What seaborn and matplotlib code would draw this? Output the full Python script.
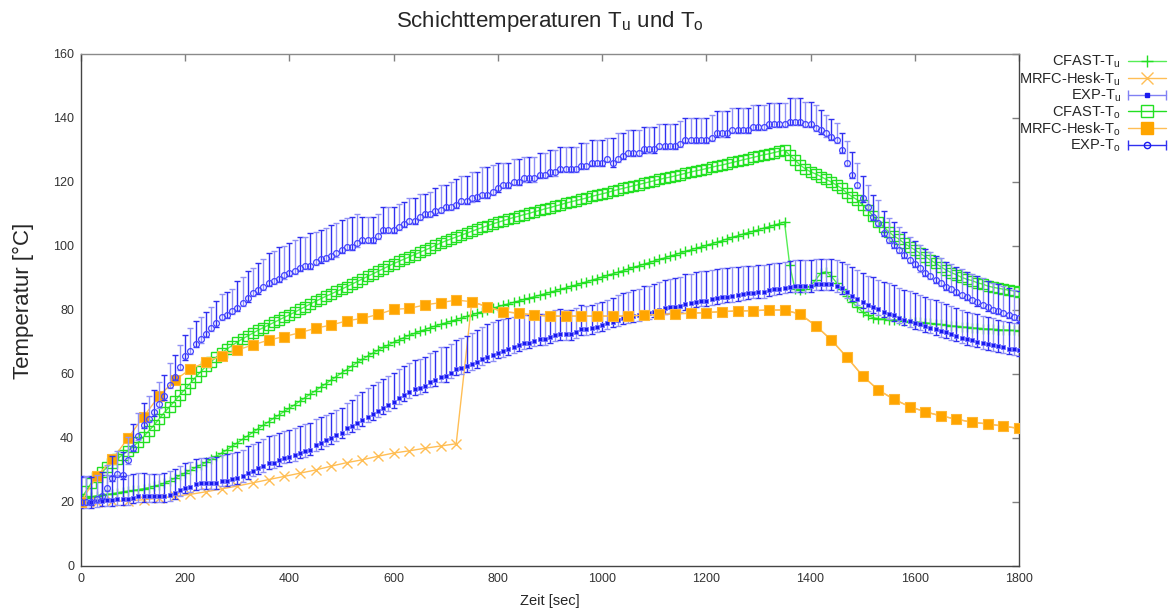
import numpy as np
import matplotlib
matplotlib.use("Agg")
import matplotlib.pyplot as plt
import seaborn as sns
from matplotlib.lines import Line2D
from matplotlib.legend_handler import HandlerLine2D

# ---------------- data ----------------
T10 = np.arange(0, 1801, 10)   # sample times, 10 s grid
T30 = np.arange(0, 1801, 30)   # MRFC-Hesk output times, 30 s grid

CFAST_TU = [
    20.5, 21.2, 21.6, 22, 22.2, 22.4, 22.6, 22.9, 23.2, 23.4,
    23.6, 23.9, 24.2, 24.5, 24.9, 25.3, 25.9, 26.6, 27.4, 28.3,
    29.1, 29.9, 30.8, 31.6, 32.4, 33.3, 34.3, 35.3, 36.3, 37.4,
    38.5, 39.6, 40.7, 41.8, 42.9, 44, 45.1, 46.2, 47.2, 48.3,
    49.3, 50.4, 51.5, 52.6, 53.7, 54.8, 55.9, 57, 58.1, 59.2,
    60.3, 61.4, 62.5, 63.6, 64.6, 65.6, 66.5, 67.4, 68.3, 69.1,
    69.9, 70.7, 71.4, 72.1, 72.7, 73.3, 73.9, 74.5, 75, 75.5,
    76, 76.5, 77, 77.5, 78, 78.5, 79, 79.5, 80, 80.5,
    81, 81.5, 81.9, 82.4, 82.8, 83.3, 83.7, 84.2, 84.6, 85.1,
    85.5, 86, 86.5, 86.9, 87.4, 87.8, 88.3, 88.8, 89.3, 89.8,
    90.3, 90.8, 91.3, 91.8, 92.3, 92.8, 93.3, 93.8, 94.3, 94.8,
    95.3, 95.8, 96.3, 96.8, 97.3, 97.8, 98.3, 98.8, 99.3, 99.7,
    100.2, 100.7, 101.2, 101.7, 102.2, 102.7, 103.2, 103.7, 104.2, 104.6,
    105.1, 105.6, 106, 106.5, 107, 107.5, 94, 86.5, 86.3, 86.5,
    87.5, 89.5, 91.5, 92, 90.5, 88.5, 86.5, 84.5, 82.5, 80.8,
    79.3, 78.3, 77.6, 77.3, 77.2, 77, 76.9, 76.8, 76.6, 76.4,
    76.3, 76.1, 76, 75.8, 75.6, 75.5, 75.3, 75.1, 74.9, 74.8,
    74.6, 74.5, 74.3, 74.2, 74.1, 74, 73.9, 73.8, 73.7, 73.6,
    73.5]

CFAST_TO = [
    21, 23.5, 26, 27.8, 29.3, 30.8, 32.2, 33.5, 34.8, 36,
    37.3, 38.8, 40.4, 42.2, 44, 46, 48, 49.8, 51.6, 53.5,
    55.3, 57.2, 59, 60.8, 62.4, 63.9, 65.3, 66.6, 67.8, 68.9,
    70, 71, 71.9, 72.8, 73.7, 74.5, 75.3, 76.1, 76.9, 77.7,
    78.5, 79.3, 80.2, 81, 81.9, 82.7, 83.5, 84.3, 85, 85.8,
    86.5, 87.3, 88.1, 88.9, 89.7, 90.5, 91.3, 92.1, 92.9, 93.7,
    94.5, 95.2, 95.9, 96.6, 97.3, 98, 98.7, 99.4, 100.2, 100.9,
    101.6, 102.2, 102.8, 103.4, 104, 104.6, 105.2, 105.8, 106.3, 106.9,
    107.4, 107.9, 108.4, 108.9, 109.3, 109.8, 110.2, 110.7, 111.1, 111.6,
    112, 112.5, 112.9, 113.4, 113.8, 114.2, 114.6, 115, 115.5, 115.9,
    116.3, 116.7, 117.2, 117.6, 118, 118.4, 118.8, 119.2, 119.6, 120,
    120.4, 120.8, 121.2, 121.5, 121.9, 122.3, 122.7, 123.1, 123.5, 123.8,
    124.2, 124.6, 125, 125.3, 125.7, 126.1, 126.5, 126.9, 127.3, 127.7,
    128.1, 128.5, 128.8, 129.2, 129.6, 130, 128.4, 126.9, 125.3, 124.1,
    123.2, 122.5, 121.7, 120.8, 120, 119, 118, 116.5, 115.4, 114.4,
    112.8, 111.2, 109.4, 107.6, 106, 104.5, 103.1, 102.1, 100.8, 99.8,
    98.8, 97.7, 96.7, 95.6, 94.6, 93.5, 92.5, 91.7, 91, 90.2,
    89.6, 89.2, 88.5, 88.1, 87.5, 87.1, 86.8, 86.5, 86.2, 86,
    85.7]

EXP_TU = [
    19.8, 19.8, 20, 20.2, 20.4, 20.5, 20.6, 20.8, 20.8, 21,
    21.4, 21.9, 21.9, 21.9, 21.9, 21.9, 21.9, 22.2, 22.7, 23.7,
    24.5, 24.8, 25.6, 25.8, 25.9, 26, 26, 26.7, 26.7, 27.1,
    27.4, 28.1, 29, 29.8, 30.5, 31.2, 32.1, 32.3, 33.1, 33.9,
    34.2, 34.7, 35.4, 35.9, 36.4, 37.8, 38.5, 39.4, 39.9, 40.9,
    41.7, 43, 43.8, 44.6, 45.6, 46.7, 47.5, 48.4, 49.3, 50.3,
    51.1, 52.4, 53.4, 54.3, 55.3, 55.5, 56.3, 57.6, 58.1, 59.2,
    59.4, 60.4, 61.5, 61.8, 62.5, 63.1, 63.8, 64.6, 65.4, 65.9,
    66.7, 67.2, 67.7, 68.5, 69, 69.6, 69.8, 70.4, 70.8, 70.8,
    71.5, 72.2, 72.5, 72.5, 72.5, 73.2, 74, 74, 74.3, 74.8,
    75.3, 75.8, 76.4, 76.9, 77.4, 77.7, 78.1, 78.4, 79, 79,
    79.5, 80, 80.5, 80.8, 81, 81.2, 81.8, 82.1, 82.6, 82.9,
    82.9, 83.3, 83.6, 84, 84.2, 84.4, 84.7, 85, 85.2, 85.4,
    85.7, 85.7, 86.2, 86.5, 86.7, 87, 87.3, 87.5, 87.5, 87.5,
    87.5, 88, 88, 88, 88, 87.5, 86.8, 85.7, 84.5, 83.5,
    82.5, 81.5, 80.9, 80.2, 79.5, 78.9, 78.3, 77.6, 77, 76.5,
    76, 75.5, 75, 74.5, 74, 73.5, 73, 72.5, 72, 71.4,
    70.9, 70.5, 70.1, 69.7, 69.4, 69, 68.6, 68.3, 67.9, 67.7,
    67.5]

EXP_TU_ERR_UP = [
    8, 8, 8, 8, 8, 7.8, 7.6, 7.5, 7.4, 7.3,
    7.2, 7.1, 7.1, 7, 7, 7, 7.2, 7.4, 7.5, 7.6,
    7.6, 7.8, 7.8, 7.9, 8, 8, 8.1, 8.1, 8.2, 8.2,
    8.3, 8.3, 8.4, 8.4, 8.4, 8.5, 8.5, 8.5, 8.4, 8.4,
    8.4, 8.4, 8.4, 8.4, 8.3, 8.2, 8, 7.9, 7.8, 7.8,
    7.8, 7.8, 8.2, 8.8, 8.8, 9, 9.1, 9.2, 9.2, 9.2,
    9.2, 9.1, 9.1, 9.1, 9.1, 9.1, 9.1, 9.1, 9.1, 9.1,
    9.1, 9.1, 9.1, 9.3, 9.5, 9.7, 9.8, 10, 10.1, 10.2,
    10.2, 10, 9.7, 9.4, 9.1, 8.8, 8.5, 8.2, 8, 7.8,
    7.8, 7.8, 7.7, 7.6, 7.6, 7.5, 7.5, 7.4, 7.4, 7.3,
    7.3, 7.4, 7.5, 7.7, 7.8, 8, 8.2, 8.3, 8.5, 8.6,
    8.7, 8.8, 8.9, 9, 9.1, 9.2, 9.3, 9.3, 9.4, 9.4,
    9.4, 9.3, 9.2, 9.1, 9, 8.9, 8.8, 8.7, 8.6, 8.5,
    8.4, 8.3, 8.2, 8.1, 8, 8, 8, 8, 8, 8,
    8, 7.8, 7.8, 7.8, 7.8, 8, 8.3, 8.6, 8.8, 9,
    9.1, 9.2, 9.3, 9.3, 9.4, 9.4, 9.4, 9.4, 9.3, 9.3,
    9.2, 9.2, 9.1, 9, 9, 8.9, 8.8, 8.8, 8.7, 8.6,
    8.6, 8.5, 8.5, 8.4, 8.4, 8.4, 8.3, 8.3, 8.3, 8.3,
    8.3]
EXP_TU_ERR_LO = 1.8

EXP_TO = [
    20, 20, 20, 21, 22, 24.5, 27.5, 28.8, 28.3, 33,
    37, 40.5, 44, 46, 48, 50.5, 53, 56.5, 59, 62.3,
    65.5, 67.3, 69.5, 70.8, 72.6, 74.4, 75.8, 77.9, 78.4, 79.8,
    80.6, 82.2, 83.6, 85.3, 86.1, 87.3, 88.5, 89, 89.8, 90.8,
    91.7, 92.3, 93.1, 93.7, 93.9, 95.1, 95.8, 96.4, 96.9, 97.7,
    98.8, 99.6, 99.8, 100.8, 101.9, 101.9, 101.9, 103.2, 105, 105,
    105, 106, 106.9, 107.9, 107.9, 109, 110, 110, 110.8, 111.3,
    112.1, 112.3, 112.8, 114, 114, 114.9, 115.2, 115.9, 115.9, 117,
    118, 119, 119, 120.1, 120, 121.1, 121.1, 121.1, 122.2, 122.2,
    123, 123, 124.1, 124.1, 124.1, 124.1, 125.1, 125.1, 126, 126,
    126, 127.2, 125.8, 127.2, 128.1, 129.2, 129.2, 129.2, 130.2, 130.2,
    130.2, 131.2, 131.2, 131.2, 131.2, 131.9, 133.1, 133.1, 133.1, 133.1,
    133.1, 133.9, 135.2, 135.2, 135.2, 136.2, 136.2, 136.2, 136.2, 137.1,
    137.1, 137.1, 138, 138.1, 138.1, 138.1, 138.8, 138.8, 138.8, 138.1,
    138.1, 136.8, 136.1, 135.2, 134.2, 133.1, 130, 126, 122.2, 119,
    114.9, 112.1, 109, 107.3, 104, 101.9, 100.4, 98.8, 97.2, 95.6,
    94.4, 93, 91.7, 90.6, 89.4, 88.5, 87.3, 86.5, 85.7, 84.7,
    84, 83.1, 82.4, 81.6, 80.8, 80, 79.7, 79, 78.4, 77.9,
    77.4]

EXP_TO_ERR_UP = [
    8, 8, 7.8, 7.5, 7.5, 7.2, 7, 7, 7.3, 7.2,
    7.3, 7.2, 7, 7.2, 7, 7, 6.8, 6.8, 7, 6.8,
    6.8, 7, 7.2, 7.1, 6.9, 6.6, 7, 7, 7.2, 6.8,
    8.6, 8.2, 8.6, 7.7, 8.5, 8.5, 9.2, 9.3, 9.8, 9.2,
    9.1, 9.6, 9.6, 9.2, 10.1, 9.4, 9.2, 9.2, 9.7, 9.6,
    9.3, 9, 9.2, 9.1, 7.1, 7.1, 7.1, 6.7, 7.1, 7.1,
    7.1, 7, 6.9, 7, 7, 7.1, 6.1, 6.9, 7.2, 7.7,
    6.9, 7.8, 8.1, 8, 8, 8.1, 7.8, 8.7, 8.7, 8.3,
    7.8, 6.8, 6.8, 7, 7.1, 6.8, 6.8, 6.8, 6.8, 6.8,
    7, 7, 6.9, 6.9, 6.9, 6.9, 7, 7, 7.1, 7.1,
    7.1, 6.7, 8.1, 8, 7.1, 7, 7, 7, 6.9, 6.9,
    6.9, 6.8, 6.8, 6.8, 6.8, 7.1, 7, 7, 7, 7,
    7, 7, 7, 7, 7, 6.8, 6.8, 6.8, 6.8, 7,
    7, 7, 6.8, 6.5, 6.5, 6.5, 7.3, 7.3, 7.3, 6.8,
    6.8, 7.3, 6.5, 5.7, 5.4, 5.2, 5.2, 6.9, 7.3, 6.8,
    7, 7, 7, 7, 7, 7, 7, 7, 7.2, 7.2,
    7.3, 7.3, 7.4, 7.5, 7.5, 7.6, 7.7, 7.8, 7.8, 8,
    8, 8.1, 8.2, 8.3, 8.3, 8.4, 8.4, 8.5, 8.5, 8.5,
    8.5]
EXP_TO_ERR_LO = 1.0

MRFC_TU = [
    19.8, 20, 20.2, 20.4, 20.7, 21.2, 21.8, 22.4, 23.2, 24.1,
    25, 26, 27, 28, 29, 30, 31.2, 32.3, 33.2, 34.3,
    35.3, 36, 36.8, 37.5, 38.2, 82.6, 81, 79.5, 79, 78.4,
    78.1, 78.1, 78.1, 78.1, 78.1, 78.1, 78.4, 78.6, 78.8, 79,
    79.2, 79.5, 79.7, 79.8, 80, 80, 78.7, 75.1, 70.6, 65.2,
    59.4, 55, 52.1, 49.8, 48.2, 46.9, 45.9, 44.9, 44.4, 43.7,
    43]

MRFC_TO = [
    20, 28, 33.3, 39.9, 46.7, 53.1, 58.1, 61.5, 63.8, 65.7,
    67.5, 69.1, 70.6, 71.7, 72.9, 74.3, 75.3, 76.6, 77.4, 78.6,
    80.2, 80.5, 81.6, 82.3, 83.1, 82.6, 81, 79.5, 79, 78.4,
    78.1, 78.1, 78.1, 78.1, 78.1, 78.1, 78.4, 78.6, 78.8, 79,
    79.2, 79.5, 79.7, 79.8, 80, 80, 78.7, 75.1, 70.6, 65.2,
    59.4, 55, 52.1, 49.8, 48.2, 46.9, 45.9, 44.9, 44.4, 43.7,
    43]

LABELS = ["CFAST-T$_\\mathregular{u}$", "MRFC-Hesk-T$_\\mathregular{u}$",
          "EXP-T$_\\mathregular{u}$", "CFAST-T$_\\mathregular{o}$",
          "MRFC-Hesk-T$_\\mathregular{o}$", "EXP-T$_\\mathregular{o}$"]
TITLE = "Schichttemperaturen T$_\\mathregular{u}$ und T$_\\mathregular{o}$"
XLABEL = "Zeit [sec]"
YLABEL = "Temperatur [°C]"
XTICKS = list(range(0, 1801, 200))
YTICKS = list(range(0, 161, 20))

# ---------------- style ----------------
sns.set_style("white")
plt.rcParams["font.family"] = ["Liberation Sans", "DejaVu Sans"]
plt.rcParams["mathtext.fontset"] = "custom"
plt.rcParams["mathtext.rm"] = "Liberation Sans"
plt.rcParams["mathtext.it"] = "Liberation Sans"

GREEN = "#22e022"
GREEN_L = "#55ee55"
ORANGE = "#ffa500"
ORANGE_L = "#ffbe55"
BLUE = "#1a1af0"
BLUE_D = "#3030f0"
BLUE_L = "#9090f6"

fig = plt.figure(figsize=(11.71, 6.12), dpi=100)
ax = fig.add_axes([81 / 1171, 1 - 566 / 612, 938 / 1171, 512 / 612])

# CFAST-Tu
sns.lineplot(x=T10, y=CFAST_TU, ax=ax, color=GREEN_L, linewidth=1.0, marker="+",
             markersize=7, markeredgewidth=1.0, markeredgecolor=GREEN,
             legend=False, zorder=2)
# MRFC-Tu
sns.lineplot(x=T30, y=MRFC_TU, ax=ax, color=ORANGE_L, linewidth=1.0, marker="x",
             markersize=6.5, markeredgewidth=1.0, markeredgecolor=ORANGE_L,
             legend=False, zorder=3)
# EXP-Tu with error bars
tu = np.asarray(EXP_TU)
tu_up = np.asarray(EXP_TU_ERR_UP)
tu_lo = np.full_like(tu, EXP_TU_ERR_LO)
for sl, col in ((slice(0, None, 2), BLUE_D), (slice(1, None, 2), BLUE_L)):
    ax.errorbar(T10[sl], tu[sl], yerr=[tu_lo[sl], tu_up[sl]], fmt="none",
                ecolor=col, elinewidth=1.0, capsize=2.5, capthick=1.0, zorder=4)
sns.lineplot(x=T10, y=EXP_TU, ax=ax, color=BLUE, linestyle="none", marker="s",
             markersize=3, markeredgewidth=0.6, markeredgecolor="#7070ff",
             legend=False, zorder=4.5)
# CFAST-To
sns.lineplot(x=T10, y=CFAST_TO, ax=ax, color=GREEN_L, linewidth=1.0, marker="s",
             markersize=6.5, markerfacecolor="none", markeredgecolor=GREEN,
             markeredgewidth=1.0, legend=False, zorder=5)
# MRFC-To
sns.lineplot(x=T30, y=MRFC_TO, ax=ax, color=ORANGE_L, linewidth=1.0, marker="s",
             markersize=7.5, markerfacecolor=ORANGE, markeredgecolor="#ffb733",
             markeredgewidth=0.8, legend=False, zorder=6)
# EXP-To with error bars
to = np.asarray(EXP_TO)
to_up = np.asarray(EXP_TO_ERR_UP)
to_lo = np.full_like(to, EXP_TO_ERR_LO)
for sl, col in ((slice(0, None, 2), BLUE_D), (slice(1, None, 2), BLUE_L)):
    ax.errorbar(T10[sl], to[sl], yerr=[to_lo[sl], to_up[sl]], fmt="none",
                ecolor=col, elinewidth=1.0, capsize=2.5, capthick=1.0, zorder=7)
sns.lineplot(x=T10, y=EXP_TO, ax=ax, color=BLUE, linestyle="none", marker="o",
             markersize=4.2, markerfacecolor="none", markeredgecolor="#4444ff",
             markeredgewidth=0.9, legend=False, zorder=7.5)

# ---------------- axes ----------------
ax.set_xlim(0, 1800)
ax.set_ylim(0, 160)
ax.set_xticks(XTICKS)
ax.set_yticks(YTICKS)
ax.set_xlabel("")
ax.set_ylabel("")
ax.tick_params(axis="both", direction="in", length=5, width=1, color="#808080",
               labelsize=9, labelcolor="#333333", top=True, right=True)
ax.tick_params(axis="y", pad=5)
ax.tick_params(axis="x", pad=5)
for side, sp in ax.spines.items():
    sp.set_visible(True)
    sp.set_linewidth(1.0)
    sp.set_color("#444444" if side != "top" else "#8a8a8a")

fig.text(550 / 1171, 1 - 21 / 612, TITLE, ha="center", va="center", fontsize=16)
fig.text(23 / 1171, 1 - 301 / 612, YLABEL, ha="center", va="center",
         rotation=90, fontsize=16)
fig.text(550 / 1171, 1 - 601 / 612, XLABEL, ha="center", va="center",
         fontsize=10.5)

# ---------------- legend ----------------
class HandlerCaps(HandlerLine2D):
    def create_artists(self, legend, orig_handle, xdescent, ydescent, width,
                       height, fontsize, trans):
        arts = super().create_artists(legend, orig_handle, xdescent, ydescent,
                                      width, height, fontsize, trans)
        y = (height - ydescent) / 2
        x0, x1 = -xdescent, -xdescent + width
        cap = Line2D([x0, x1], [y, y], linestyle="none", marker="|",
                     markersize=7, markeredgewidth=1.0,
                     color=orig_handle.get_color(), transform=trans)
        return arts + [cap]

h_cfast_u = Line2D([], [], color=GREEN_L, lw=1, marker="+", ms=9, mew=1,
                   mec=GREEN)
h_mrfc_u = Line2D([], [], color=ORANGE_L, lw=1, marker="x", ms=8, mew=1)
h_exp_u = Line2D([], [], color="#8080f4", lw=1, marker="s", ms=3,
                 mfc=BLUE, mec=BLUE)
h_cfast_o = Line2D([], [], color=GREEN, lw=1, marker="s", ms=8, mfc="none",
                   mec=GREEN, mew=1)
h_mrfc_o = Line2D([], [], color=ORANGE_L, lw=1, marker="s", ms=9, mfc=ORANGE,
                  mec=ORANGE)
h_exp_o = Line2D([], [], color="#3030f0", lw=1, marker="o", ms=4.5,
                 mfc="none", mec=BLUE)
handles = [h_cfast_u, h_mrfc_u, h_exp_u, h_cfast_o, h_mrfc_o, h_exp_o]

fig.legend(handles, LABELS, loc="upper right",
           bbox_to_anchor=(1166 / 1171, 1 - 54 / 612), frameon=False,
           markerfirst=False, numpoints=1, fontsize=10.5, labelspacing=0.0,
           handlelength=2.6, handletextpad=0.5, borderpad=0, borderaxespad=0,
           handler_map={h_exp_u: HandlerCaps(), h_exp_o: HandlerCaps()})

fig.savefig("out.png", dpi=100)
